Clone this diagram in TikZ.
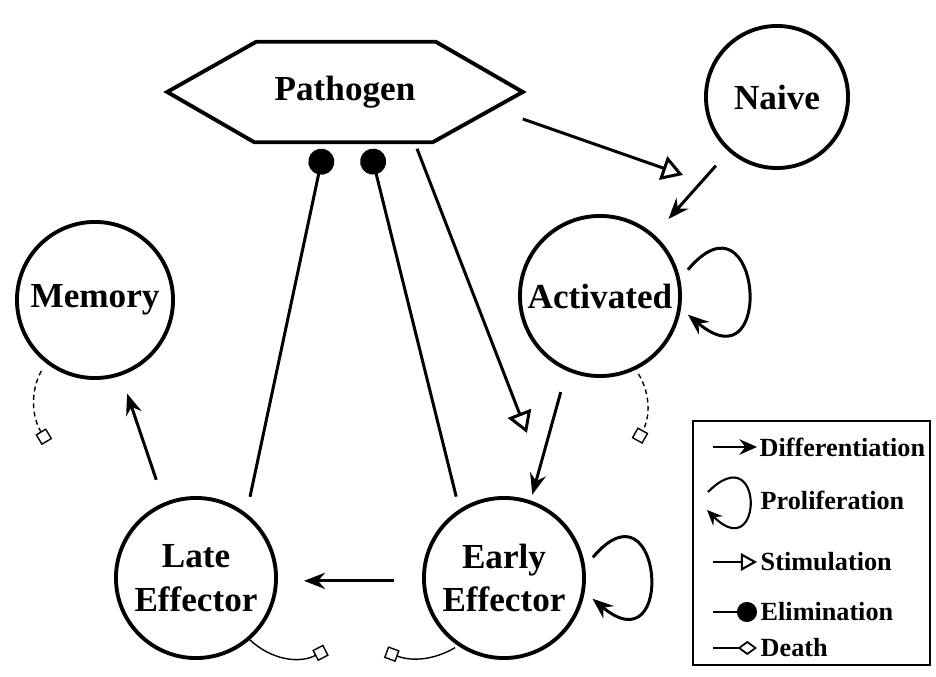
\documentclass[tikz,border=0pt]{standalone}
\usepackage{fontspec}
\setmainfont{Liberation Serif}
\usetikzlibrary{arrows.meta,positioning}

\tikzset{
  cellfont/.style={font=\fontsize{10}{12.4}\selectfont\bfseries},
  cell/.style={circle, draw, line width=1.1pt, inner sep=0pt, align=center, cellfont},
  diffarrow/.style={-{Stealth[length=6pt,width=4.6pt,inset=2pt]}, line width=0.85pt},
  stimarrow/.style={-{Triangle[open,length=6pt,width=7pt]}, line width=0.85pt},
  elimline/.style={-{Circle[length=7.4pt]}, line width=0.85pt},
  deathline/.style={-{Square[open,length=3.5pt,width=3.5pt]}, line width=0.4pt},
  legendtext/.style={anchor=west, inner sep=0pt, font=\fontsize{7.45}{9}\selectfont\bfseries},
}

\begin{document}
\begin{tikzpicture}[x=0.01cm, y=-0.01cm]
\useasboundingbox (0,0) rectangle (936,677);

% Pathogen (hexagon drawn round a plain node)
\node[minimum width=3.54cm, minimum height=0.99cm, inner sep=0pt, cellfont] (pathogen) at (345,92) {Pathogen};
\draw[line width=1.1pt] (pathogen.west) -- ([xshift=0.89cm]pathogen.north west)
  -- ([xshift=-0.87cm]pathogen.north east) -- (pathogen.east)
  -- ([xshift=-0.9cm]pathogen.south east) -- ([xshift=0.87cm]pathogen.south west) -- cycle;

% Cell states
\node[cell, minimum size=1.42cm] (naive) at (777,97) {Naive};
\node[cell, minimum size=1.6cm] (activated) at (600,296) {Activated};
\node[cell, minimum size=1.56cm] (memory) at (95,300) {Memory};
\node[cell, minimum size=1.6cm] (late) at (196,578) {Late\\Effector};
\node[cell, minimum size=1.6cm] (early) at (504,578) {Early\\Effector};

% Differentiation
\draw[diffarrow, shorten <=0.19cm, shorten >=0.21cm] (naive) -- (activated);
\draw[diffarrow, shorten <=0.22cm, shorten >=0.06cm] (activated.-114) -- (early.71);
\draw[diffarrow, shorten <=0.28cm, shorten >=0.26cm] (early.182) -- (late.-2);
\draw[diffarrow, shorten <=0.24cm, shorten >=0.19cm] (late.113) -- (memory.-71);

% Proliferation
\draw[diffarrow, shorten <=0.12cm, shorten >=0.09cm] (activated.12)
  .. controls +(50:1.25cm) and +(-40:1.25cm) .. (activated.-9);
\draw[diffarrow, shorten <=0.12cm, shorten >=0.1cm] (early.8)
  .. controls +(50:1.2cm) and +(-40:1.2cm) .. (early.-10);

% Stimulation
\coordinate (stimA) at (683,175);
\coordinate (stimE) at (527,433);
\draw[stimarrow] ([yshift=-0.27cm]pathogen.east) -- (stimA);
\draw[stimarrow] ([xshift=0.72cm,yshift=-0.065cm]pathogen.south) -- (stimE);

% Elimination
\coordinate (elimL) at (324,149);
\coordinate (elimE) at (370,149);
\draw[elimline, shorten <=0.17cm] (late.52) -- (elimL);
\draw[elimline, shorten <=0.13cm] (early.123) -- (elimE);

% Death
\coordinate (deathA) at (637,441);
\coordinate (deathM) at (47,442);
\coordinate (deathL) at (326,650);
\coordinate (deathE) at (386,652);
\draw[deathline, dash pattern=on 1.4pt off 1pt, shorten <=0.05cm] (activated.-64) to[bend left=30] (deathA);
\draw[deathline, dash pattern=on 1.4pt off 1pt, shorten <=0.09cm] (memory.-128) to[bend right=30] (deathM);
\draw[deathline] (late.-49) to[bend right=35] (deathL);
\draw[deathline, shorten <=0.035cm] (early.-124) to[bend left=25] (deathE);

% Legend
\draw[line width=0.5pt] (693,421) rectangle (930,665);
\node[legendtext] (ldiff) at (759,447) {Differentiation};
\node[legendtext] (lprolif) at (760,500) {Proliferation};
\node[legendtext] (lstim) at (760,562) {Stimulation};
\node[legendtext] (lelim) at (760,612) {Elimination};
\node[legendtext] (ldeath) at (760,648) {Death};
\draw[-{Stealth[length=5pt,width=4.4pt,inset=1.7pt]}, line width=0.7pt]
  ([xshift=-0.46cm]ldiff.west) -- ([xshift=-0.02cm]ldiff.west);
\draw[-{Stealth[length=4.4pt,width=3.8pt,inset=1.5pt]}, line width=0.6pt]
  ([xshift=-0.52cm,yshift=0.08cm]lprolif.west)
  .. controls +(45:0.8cm) and +(-45:0.8cm) .. ([xshift=-0.53cm,yshift=-0.1cm]lprolif.west);
\draw[-{Triangle[open,length=4.6pt,width=5pt]}, line width=0.6pt]
  ([xshift=-0.47cm]lstim.west) -- ([xshift=-0.03cm]lstim.west);
\draw[-{Circle[length=5.7pt]}, line width=0.6pt]
  ([xshift=-0.47cm]lelim.west) -- ([xshift=-0.03cm]lelim.west);
\draw[-{Diamond[open,length=5.5pt,width=4pt]}, line width=0.5pt]
  ([xshift=-0.47cm]ldeath.west) -- ([xshift=-0.03cm]ldeath.west);
\end{tikzpicture}
\end{document}
